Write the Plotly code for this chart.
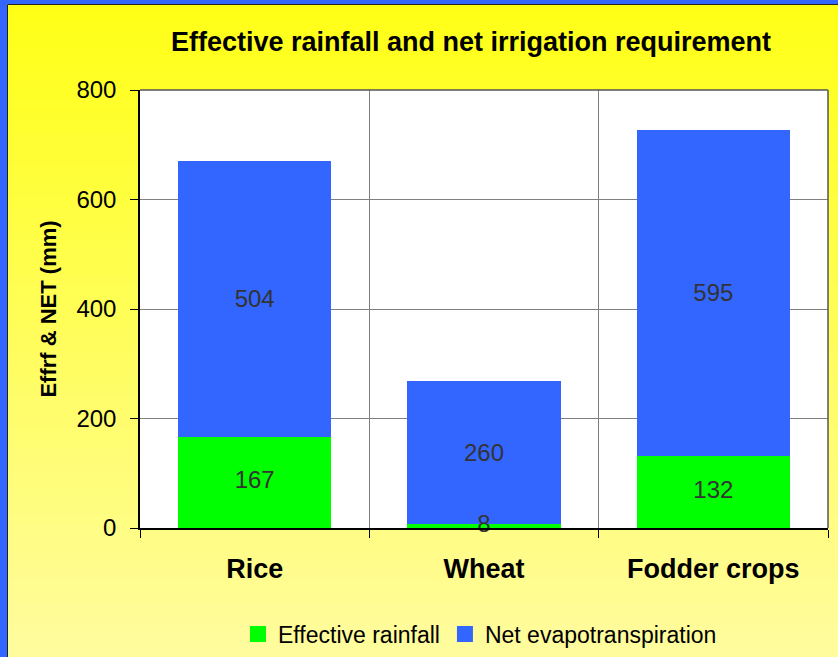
import plotly.graph_objects as go

categories = ["Rice", "Wheat", "Fodder crops"]
effective_rainfall = [167, 8, 132]
net_evapotranspiration = [504, 260, 595]
y_ticks = [0, 200, 400, 600, 800]

W, H = 838, 657
ML, MR, MT, MB = 140, 10, 90, 129
pw = W - ML - MR
ph = H - MT - MB

def fx(px):
    return (px - ML) / pw

def fy(py):
    return (H - MB - py) / ph

GREEN = "#00FF00"
BLUE = "#3366FF"

shapes = []
# gradient background
n = 60
c0 = (255, 255, 22)
c1 = (255, 252, 158)
for i in range(n):
    t = i / (n - 1)
    col = tuple(round(c0[k] + (c1[k] - c0[k]) * t) for k in range(3))
    y_top = H * i / n
    y_bot = H * (i + 1) / n + 1
    shapes.append(dict(type="rect", xref="paper", yref="paper",
                       x0=fx(0), x1=fx(W), y0=fy(y_bot), y1=fy(y_top),
                       line=dict(width=0), fillcolor="rgb(%d,%d,%d)" % col, layer="below"))
# blue frame (left and top)
shapes.append(dict(type="rect", xref="paper", yref="paper", x0=fx(0), x1=fx(7), y0=fy(H), y1=fy(0),
                   line=dict(width=0), fillcolor=BLUE, layer="below"))
shapes.append(dict(type="rect", xref="paper", yref="paper", x0=fx(0), x1=fx(W), y0=fy(4), y1=fy(0),
                   line=dict(width=0), fillcolor=BLUE, layer="below"))
shapes.append(dict(type="line", xref="paper", yref="paper", x0=fx(7.5), x1=fx(7.5), y0=fy(H), y1=fy(4.5),
                   line=dict(width=1, color="#222"), layer="below"))
shapes.append(dict(type="line", xref="paper", yref="paper", x0=fx(7.5), x1=fx(W), y0=fy(4.5), y1=fy(4.5),
                   line=dict(width=1, color="#222"), layer="below"))
# white plot area
shapes.append(dict(type="rect", xref="paper", yref="paper", x0=0, x1=1, y0=0, y1=1,
                   line=dict(width=0), fillcolor="white", layer="below"))
# top and right border of plot area
shapes.append(dict(type="line", xref="paper", yref="paper", x0=0, x1=1, y0=1, y1=1,
                   line=dict(width=1.5, color="#555"), layer="above"))
shapes.append(dict(type="line", xref="paper", yref="paper", x0=1, x1=1, y0=0, y1=1,
                   line=dict(width=1.5, color="#555"), layer="above"))

x_idx = list(range(len(categories)))

fig = go.Figure()
fig.add_trace(go.Bar(
    x=x_idx, y=effective_rainfall, name="Effective rainfall",
    marker=dict(color=GREEN, line=dict(width=0)),
    width=0.67, showlegend=False, hoverinfo="x+y",
))
fig.add_trace(go.Bar(
    x=x_idx, y=net_evapotranspiration, name="Net evapotranspiration",
    marker=dict(color=BLUE, line=dict(width=0)),
    text=[str(v) for v in net_evapotranspiration], textposition="inside",
    insidetextanchor="middle", textfont=dict(size=24, color="#333333"),
    width=0.67, showlegend=False,
))
# labels of the green segments, centred in each segment (visible even for tiny values)
fig.add_trace(go.Scatter(
    x=x_idx, y=[v / 2 for v in effective_rainfall], mode="text",
    text=[str(v) for v in effective_rainfall], textposition="middle center",
    textfont=dict(size=24, color="#333333"), cliponaxis=False,
    showlegend=False, hoverinfo="skip",
))
# legend entries with larger square swatches
fig.add_trace(go.Scatter(x=[None], y=[None], mode="markers", name="Effective rainfall",
                         marker=dict(symbol="square", size=16, color=GREEN)))
fig.add_trace(go.Scatter(x=[None], y=[None], mode="markers", name="Net evapotranspiration",
                         marker=dict(symbol="square", size=16, color=BLUE)))
# invisible trace carrying the category label axis
fig.add_trace(go.Scatter(x=x_idx, y=[0] * len(x_idx), xaxis="x2", mode="markers",
                         marker=dict(opacity=0), showlegend=False, hoverinfo="skip"))

fig.update_layout(
    width=W, height=H,
    margin=dict(l=ML, r=MR, t=MT, b=MB, autoexpand=False),
    barmode="stack",
    paper_bgcolor="#FFFF99",
    plot_bgcolor="white",
    font=dict(family="Liberation Sans, Arial, sans-serif", color="black"),
    title=dict(text="<b>Effective rainfall and net irrigation requirement</b>",
               x=471 / W, xanchor="center", y=1 - 42 / H, yanchor="middle",
               font=dict(size=27, color="black")),
    uniformtext=dict(minsize=24, mode="show"),
    shapes=shapes,
    showlegend=True,
    legend=dict(orientation="h", x=fx(480), xanchor="center",
                yref="container", y=1 - 634 / H, yanchor="middle",
                font=dict(size=23), bgcolor="rgba(0,0,0,0)", traceorder="normal",
                itemwidth=30),
    xaxis=dict(range=[-0.5, 2.5], tickvals=[-0.5, 0.5, 1.5, 2.5], ticktext=["", "", "", ""],
               ticks="outside", ticklen=8, tickcolor="black", automargin=False,
               showgrid=True, gridcolor="#808080", gridwidth=1,
               showline=True, linecolor="black", linewidth=1.5, zeroline=False, fixedrange=True),
    xaxis2=dict(overlaying="x", anchor="y", side="bottom", range=[-0.5, 2.5],
                tickvals=x_idx, ticktext=["<b>%s</b>" % c for c in categories],
                tickfont=dict(size=27), ticks="", showgrid=False, showline=False,
                zeroline=False, ticklabelstandoff=22, automargin=False),
    yaxis=dict(range=[0, 800], tickvals=y_ticks, ticks="outside", ticklen=8, tickcolor="black",
               tickfont=dict(size=24), showgrid=True, gridcolor="#808080", gridwidth=1,
               showline=True, linecolor="black", linewidth=1.5, zeroline=False,
               ticklabelstandoff=9, automargin=False,
               title=dict(text="<b>Effrf & NET (mm)</b>", font=dict(size=22), standoff=14)),
)

fig.write_html("out.html", config={"displayModeBar": False})

# remove the default page margin so the figure sits at the window's origin
with open("out.html", "r", encoding="utf-8") as f:
    html = f.read()
html = html.replace("<head>", "<head><style>html,body{margin:0;padding:0;overflow:hidden;}</style>", 1)
with open("out.html", "w", encoding="utf-8") as f:
    f.write(html)
